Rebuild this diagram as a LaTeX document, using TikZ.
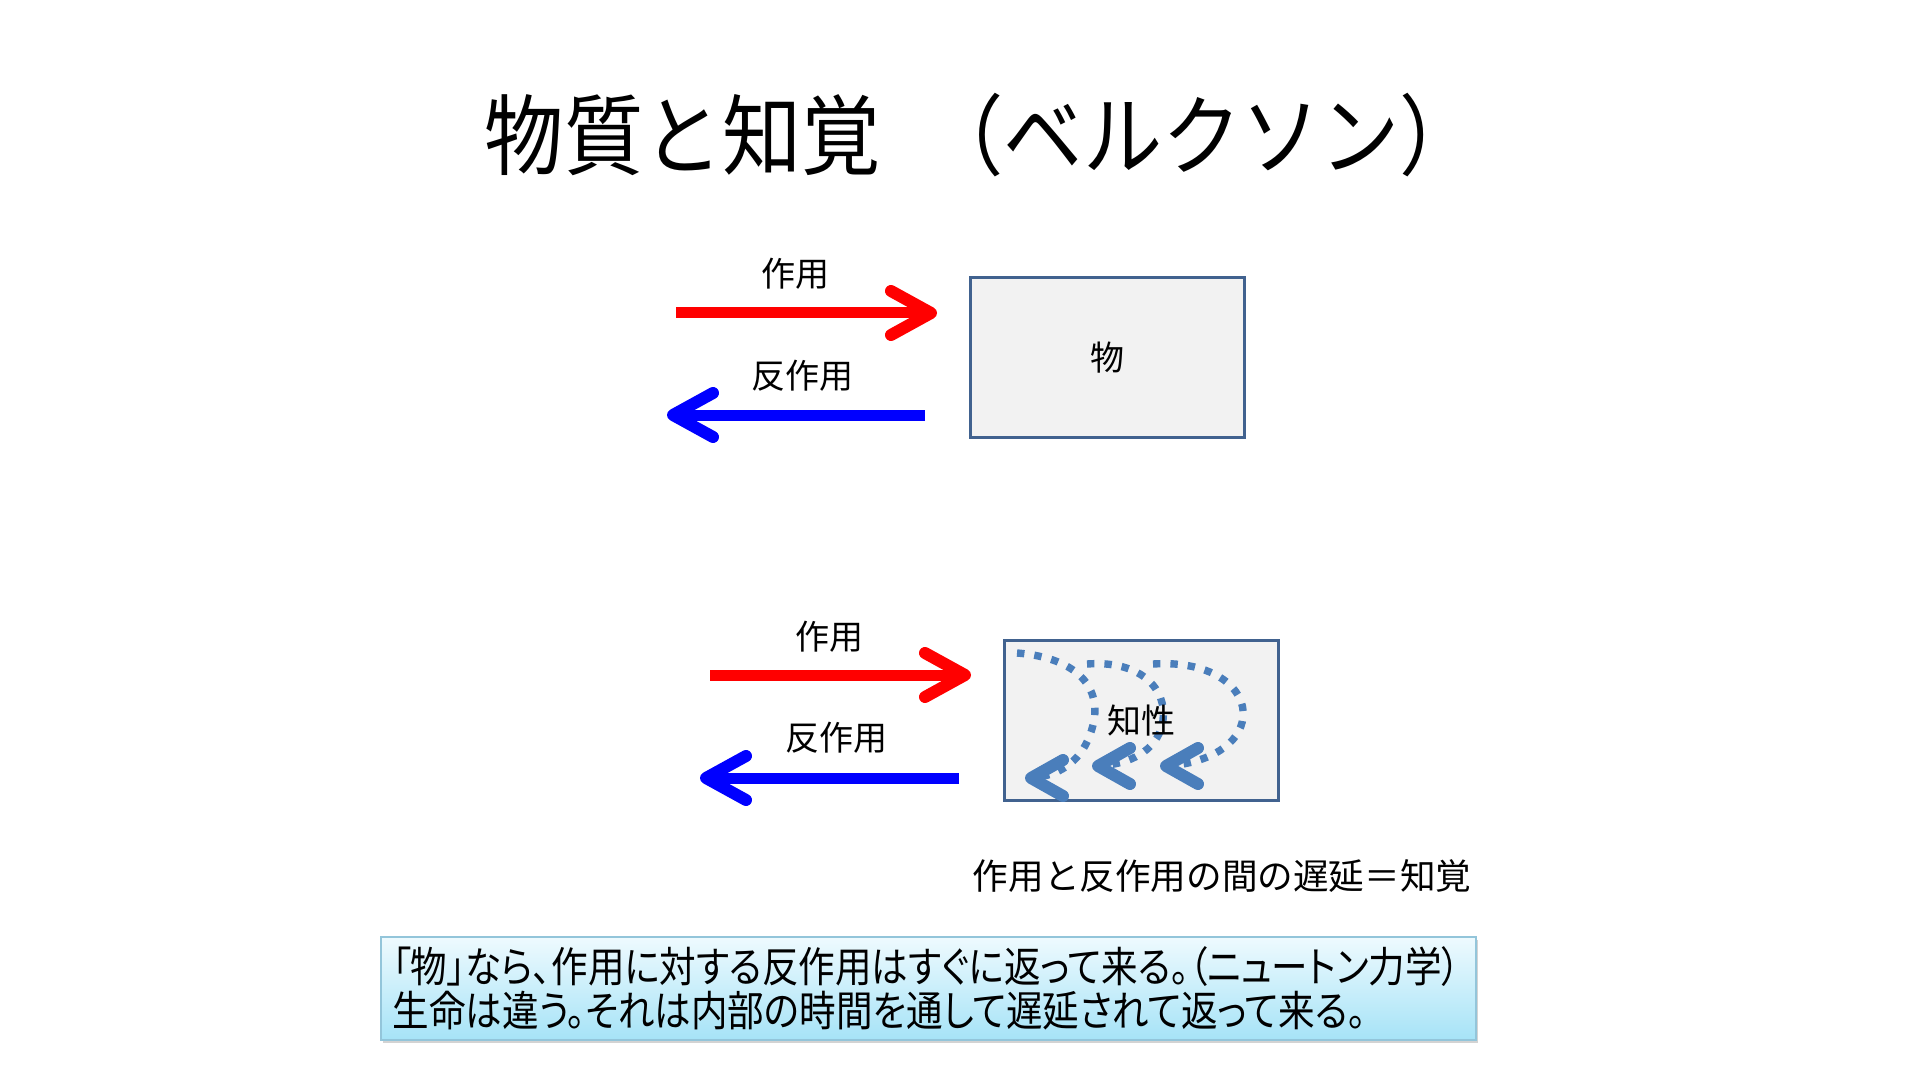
\documentclass[tikz,border=0pt]{standalone}
\usepackage{fontspec}
\setmainfont{Noto Sans CJK JP}
\newfontfamily\cjktitle[FakeStretch=0.9]{Noto Sans CJK JP}
\newfontfamily\cjknarrow[FakeStretch=0.87,RawFeature=+palt]{Noto Sans CJK JP}
\usetikzlibrary{arrows.meta,bending,shadows}
\definecolor{boxborder}{HTML}{41628F}
\definecolor{boxfill}{HTML}{F2F2F2}
\definecolor{dotblue}{HTML}{4A7EBB}
\definecolor{noteTop}{HTML}{EEFAFE}
\definecolor{noteBot}{HTML}{A6E3F7}
\definecolor{noteBorder}{HTML}{93C5DA}
\tikzset{
  thing/.style={draw=boxborder, line width=1.5pt, fill=boxfill, minimum width=137pt, minimum height=80pt, inner sep=0pt, font=\fontsize{17}{20}\selectfont},
  lbl/.style={font=\fontsize{17}{20}\selectfont, inner sep=0pt},
  act/.style={draw=red, line width=5.5pt, -{Straight Barb[length=20pt,width=22pt,line width=6pt,round]}},
  react/.style={draw=blue, line width=5.5pt, -{Straight Barb[length=20pt,width=22pt,line width=6pt,round]}},
  loop/.style={draw=dotblue, line width=3.7pt, line cap=butt, dash pattern=on 3.7pt off 5pt, -{Straight Barb[length=16pt,width=18pt,line width=6pt,round]}},
}
\begin{document}
\begin{tikzpicture}[x=0.5pt,y=-0.5pt]
\useasboundingbox (0,0) rectangle (1920,1080);
% title
\node[inner sep=0pt, font=\cjktitle\fontsize{44}{50}\selectfont] (title) at (982,135) {物質と知覚\hspace{0.5em}（ベルクソン）};
% upper pair
\node[thing] (box1) at (1107,357.5) {物};
\coordinate (r1s) at (676,313); \coordinate (r1e) at (937,313);
\coordinate (b1s) at (925,415); \coordinate (b1e) at (667,415);
\draw[act] (r1s) -- (r1e);
\draw[react] (b1s) -- (b1e);
\node[lbl] (l1) at (795,274) {作用};
\node[lbl] (l2) at (802,376) {反作用};
% lower pair
\node[thing] (box2) at (1141,720.5) {};
\draw[loop] (1017,653) .. controls (1080,658) and (1102,690) .. (1093,725) .. controls (1085,758) and (1062,778) .. (1025,778);
\draw[loop] (1087,664) .. controls (1142,660) and (1167,690) .. (1163,720) .. controls (1159,750) and (1130,766) .. (1092,766);
\draw[loop] (1153,664) .. controls (1215,660) and (1246,690) .. (1243,717) .. controls (1240,748) and (1200,766) .. (1160,766);
\node[lbl] (k) at (box2.center) {知性};
\coordinate (r2s) at (710,675); \coordinate (r2e) at (971,675);
\coordinate (b2s) at (959,778); \coordinate (b2e) at (700,778);
\draw[act] (r2s) -- (r2e);
\draw[react] (b2s) -- (b2e);
\node[lbl] (l3) at (829,637) {作用};
\node[lbl] (l4) at (836,738) {反作用};
% caption
\node[lbl, font=\fontsize{17.8}{20}\selectfont] (cap) at (1222,876) {作用と反作用の間の遅延＝知覚};
% note
\node[draw=noteBorder, line width=0.8pt, top color=noteTop, bottom color=noteBot,
      drop shadow={shadow xshift=1pt, shadow yshift=-1.5pt, opacity=0.35, fill=gray},
      minimum width=547.5pt, minimum height=51.5pt, inner sep=0pt] (note) at (928.5,988.5) {};
\node[anchor=west, align=left, inner sep=0pt, font=\cjknarrow\fontsize{21}{22}\selectfont] (notetext) at ([xshift=6pt]note.west)
  {「物」なら、作用に対する反作用はすぐに返って来る。（ニュートン力学）\\生命は違う。それは内部の時間を通して遅延されて返って来る。};
\end{tikzpicture}
\end{document}
